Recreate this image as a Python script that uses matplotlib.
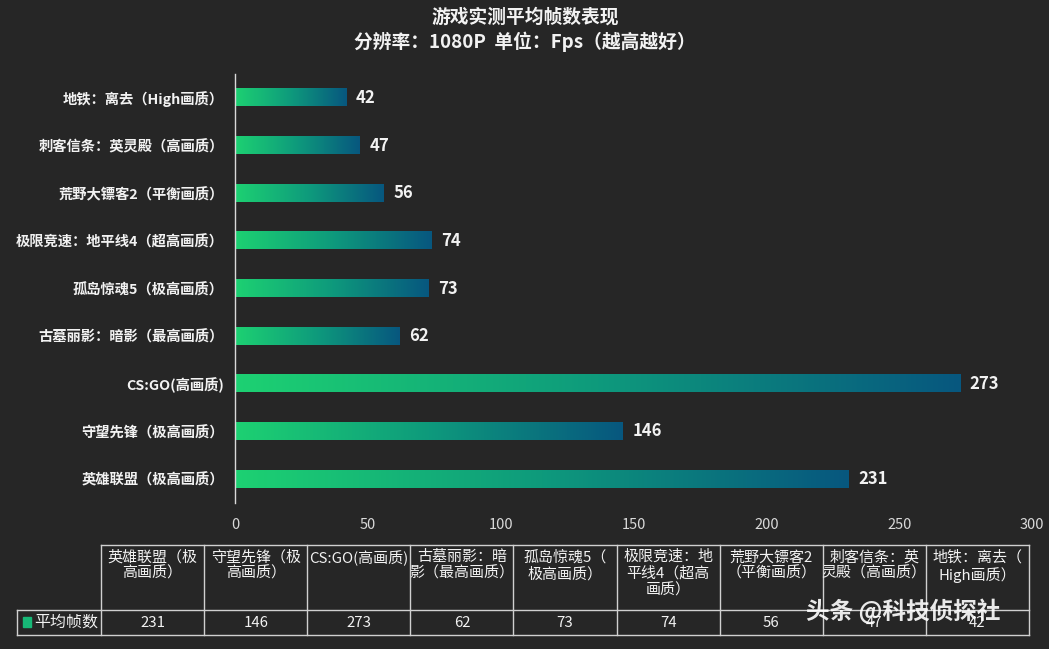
import matplotlib
matplotlib.use("Agg")
import matplotlib.pyplot as plt
import numpy as np
from matplotlib.colors import LinearSegmentedColormap

plt.rcParams['font.family'] = ['Noto Sans CJK SC', 'DejaVu Sans']

# table order (bottom bar first)
games = ["英雄联盟（极高画质）", "守望先锋（极高画质）", "CS:GO(高画质)",
         "古墓丽影：暗影（最高画质）", "孤岛惊魂5（极高画质）",
         "极限竞速：地平线4（超高画质）", "荒野大镖客2（平衡画质）",
         "刺客信条：英灵殿（高画质）", "地铁：离去（High画质）"]
header_cells = ["英雄联盟（极\n高画质）", "守望先锋（极\n高画质）", "CS:GO(高画质)",
                "古墓丽影：暗\n影（最高画质）", "孤岛惊魂5（\n极高画质）",
                "极限竞速：地\n平线4（超高\n画质）", "荒野大镖客2\n（平衡画质）",
                "刺客信条：英\n灵殿（高画质）", "地铁：离去（\nHigh画质）"]
fps = [231, 146, 273, 62, 73, 74, 56, 47, 42]
series_name = "平均帧数"
xticks = [0, 50, 100, 150, 200, 250, 300]
title = "游戏实测平均帧数表现\n分辨率：1080P  单位：Fps（越高越好）"

BG = "#262626"
FG = "#f2f2f2"
W, H = 1049, 649
cmap = LinearSegmentedColormap.from_list("g2b", ["#1dd172", "#0e9a7c", "#07577f"])

fig = plt.figure(figsize=(W / 100, H / 100), dpi=100, facecolor=BG)


def px(x0, y0, x1, y1):
    return [x0 / W, 1 - y1 / H, (x1 - x0) / W, (y1 - y0) / H]


ax = fig.add_axes(px(235, 74, 1032, 503))
ax.set_facecolor(BG)
grad = np.linspace(0, 1, 256).reshape(1, -1)
bh = 0.36
for i, v in enumerate(fps):
    ax.imshow(grad, cmap=cmap, aspect="auto", extent=(0, v, i - bh / 2, i + bh / 2),
              interpolation="bilinear", zorder=2)
    ax.text(v + 3.5, i, str(v), va="center", ha="left", color=FG,
            fontsize=12, fontweight="bold")
ax.set_xlim(0, 300)
ax.set_ylim(-0.5, len(fps) - 0.5)
ax.set_yticks(range(len(games)))
ax.set_yticklabels(games, color=FG, fontsize=10.3, fontweight="bold")
ax.set_xticks(xticks)
ax.set_xticklabels([str(t) for t in xticks], color="#d9d9d9", fontsize=10.5)
ax.tick_params(axis="both", length=0, pad=8)
ax.tick_params(axis="x", pad=11)
for s in ["top", "right", "bottom"]:
    ax.spines[s].set_visible(False)
ax.spines["left"].set_color("#d9d9d9")
ax.spines["left"].set_linewidth(1)

fig.text(525 / W, 1 - 30 / H, title, ha="center", va="center", color=FG,
         fontsize=13.5, fontweight="bold", linespacing=1.3)

# data table under the chart
tx = fig.add_axes([0, 0, 1, 1])
tx.set_xlim(0, W)
tx.set_ylim(H, 0)
tx.axis("off")
lc = "#d0d0d0"
col_x = np.linspace(101, 1029, len(fps) + 1)
y_top, y_mid, y_bot = 545, 610, 635
for xb in col_x:
    tx.plot([xb, xb], [y_top, y_bot], color=lc, lw=1)
tx.plot([17, 17], [y_mid, y_bot], color=lc, lw=1)
tx.plot([col_x[0], col_x[-1]], [y_top, y_top], color=lc, lw=1)
tx.plot([17, col_x[-1]], [y_mid, y_mid], color=lc, lw=1)
tx.plot([17, col_x[-1]], [y_bot, y_bot], color=lc, lw=1)
for j, (lab, v) in enumerate(zip(header_cells, fps)):
    cx = (col_x[j] + col_x[j + 1]) / 2
    tx.text(cx, 550, lab, ha="center", va="top", color=FG, fontsize=10.8,
            linespacing=1.2)
    tx.text(cx, 623, str(v), ha="center", va="center", color=FG, fontsize=10.8)
tx.add_patch(plt.Rectangle((23, 617), 8, 10, color="#17b877"))
tx.text(34, 622, series_name, ha="left", va="center", color=FG, fontsize=11.5)

# watermark
tx.text(806, 611, "头条 @科技侦探社", ha="left", va="center", color="white",
        fontsize=17, fontweight="bold", alpha=0.9)

fig.savefig("out.png", dpi=100, facecolor=BG)
